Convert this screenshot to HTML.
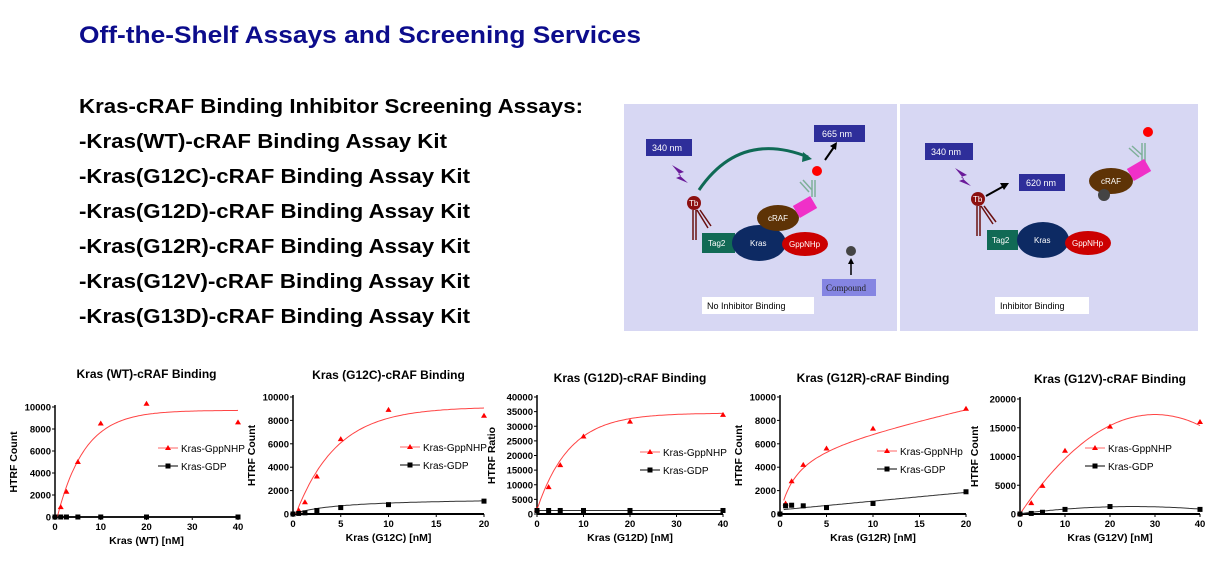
<!DOCTYPE html>
<html><head><meta charset="utf-8"><style>
html,body{margin:0;padding:0;background:#fff;}
svg{display:block;font-family:"Liberation Sans",Arial,sans-serif;}
</style></head><body>
<svg id="s" width="1221" height="567" viewBox="0 0 1221 567" xmlns="http://www.w3.org/2000/svg">
<text x="79" y="43" font-size="24" font-weight="bold" fill="#0c0c8c" textLength="562" lengthAdjust="spacingAndGlyphs">Off-the-Shelf Assays and Screening Services</text>
<g font-size="20" font-weight="bold" fill="#000">
<text x="79" y="113" textLength="504" lengthAdjust="spacingAndGlyphs">Kras-cRAF Binding Inhibitor Screening Assays:</text>
<text x="79" y="148" textLength="368" lengthAdjust="spacingAndGlyphs">-Kras(WT)-cRAF Binding Assay Kit</text>
<text x="79" y="183" textLength="391" lengthAdjust="spacingAndGlyphs">-Kras(G12C)-cRAF Binding Assay Kit</text>
<text x="79" y="218" textLength="391" lengthAdjust="spacingAndGlyphs">-Kras(G12D)-cRAF Binding Assay Kit</text>
<text x="79" y="253" textLength="391" lengthAdjust="spacingAndGlyphs">-Kras(G12R)-cRAF Binding Assay Kit</text>
<text x="79" y="288" textLength="391" lengthAdjust="spacingAndGlyphs">-Kras(G12V)-cRAF Binding Assay Kit</text>
<text x="79" y="323" textLength="391" lengthAdjust="spacingAndGlyphs">-Kras(G13D)-cRAF Binding Assay Kit</text>
</g>
<!-- diagram -->
<rect x="624" y="104" width="574" height="227" fill="#d7d7f3"/>
<rect x="897" y="104" width="3" height="227" fill="#fff"/>
<g font-size="9" fill="#fff">
<rect x="646" y="139" width="46" height="17" fill="#2e2e9a"/><text x="652" y="151">340 nm</text>
<rect x="814" y="125" width="51" height="17" fill="#2e2e9a"/><text x="822" y="137">665 nm</text>
<rect x="925" y="143" width="48" height="17" fill="#2e2e9a"/><text x="931" y="155">340 nm</text>
<rect x="1019" y="174" width="46" height="17" fill="#2e2e9a"/><text x="1026" y="186">620 nm</text>
</g>
<path d="M672 165 L684 172 L678 174 L688 183 L676 178 L681 176 Z" fill="#6a1a9a"/>
<path d="M955 168 L967 175 L961 177 L971 186 L959 181 L964 179 Z" fill="#6a1a9a"/>
<path d="M699 190 Q740 130 808 157" stroke="#0f6a55" stroke-width="3" fill="none"/>
<path d="M803 152 L812 159 L802 162 Z" fill="#0f6a55"/>
<line x1="825" y1="160" x2="834" y2="147" stroke="#000" stroke-width="2"/><path d="M830 146 L837 142 L836 150 Z"/>
<line x1="986" y1="196" x2="1004" y2="186" stroke="#000" stroke-width="2"/><path d="M1000 183 L1009 183 L1004 190 Z"/>
<!-- left assembly -->
<g stroke="#6a1010" stroke-width="1.5" fill="none">
<path d="M693 210 L693 240 M696 210 L696 240 M697 210 L708 228 M700 210 L711 226"/>
<path d="M977 206 L977 236 M980 206 L980 236 M981 206 L993 224 M984 206 L996 222"/>
</g>
<circle cx="694" cy="203" r="7" fill="#8c1010"/><text x="689" y="206" font-size="8" fill="#fff">Tb</text>
<circle cx="978" cy="199" r="7" fill="#8c1010"/><text x="973" y="202" font-size="8" fill="#fff">Tb</text>
<rect x="702" y="233" width="33" height="20" fill="#116a55"/><text x="708" y="246" font-size="8" fill="#fff">Tag2</text>
<ellipse cx="759" cy="243" rx="27" ry="18" fill="#0d2a63"/><text x="750" y="246" font-size="8" fill="#fff">Kras</text>
<ellipse cx="805" cy="244" rx="23" ry="12" fill="#c00"/><text x="789" y="247" font-size="8" fill="#fff">GppNHp</text>
<ellipse cx="778" cy="218" rx="21" ry="13" fill="#5e3306"/><text x="768" y="221" font-size="8" fill="#fff">cRAF</text>
<rect x="795" y="200" width="20" height="14" fill="#f030c8" transform="rotate(-30 805 207)"/>
<g stroke="#7fb09a" stroke-width="1.5" fill="none"><path d="M812 197 L812 180 M815 197 L815 180 M812 190 L803 180 M809 192 L800 182"/>
<path d="M1142 162 L1142 143 M1145 162 L1145 143 M1142 155 L1132 146 M1139 157 L1129 148"/></g>
<circle cx="817" cy="171" r="5" fill="#f00"/>
<circle cx="851" cy="251" r="5" fill="#444"/>
<line x1="851" y1="275" x2="851" y2="263" stroke="#000" stroke-width="1.5"/><path d="M848 264 L851 258 L854 264 Z"/>
<rect x="822" y="279" width="54" height="17" fill="#8585e2"/><text x="826" y="291" font-size="9" font-family="Liberation Serif,serif" fill="#222">Compound</text>
<rect x="702" y="297" width="112" height="17" fill="#fff"/><text x="707" y="309" font-size="9">No Inhibitor Binding</text>
<!-- right assembly -->
<rect x="987" y="230" width="31" height="20" fill="#116a55"/><text x="992" y="243" font-size="8" fill="#fff">Tag2</text>
<ellipse cx="1043" cy="240" rx="26" ry="18" fill="#0d2a63"/><text x="1034" y="243" font-size="8" fill="#fff">Kras</text>
<ellipse cx="1088" cy="243" rx="23" ry="12" fill="#c00"/><text x="1072" y="246" font-size="8" fill="#fff">GppNHp</text>
<ellipse cx="1111" cy="181" rx="22" ry="13" fill="#5e3306"/><text x="1101" y="184" font-size="8" fill="#fff">cRAF</text>
<circle cx="1104" cy="195" r="6" fill="#444"/>
<rect x="1129" y="163" width="20" height="14" fill="#f030c8" transform="rotate(-30 1139 170)"/>
<circle cx="1148" cy="132" r="5" fill="#f00"/>
<rect x="995" y="297" width="94" height="17" fill="#fff"/><text x="1000" y="309" font-size="9">Inhibitor Binding</text>
<g id="charts"></g>
</svg>
<script>
var g=document.getElementById('charts'),NS='http://www.w3.org/2000/svg';
function el(t,a,txt){var e=document.createElementNS(NS,t);for(var k in a)e.setAttribute(k,a[k]);if(txt!=null)e.textContent=txt;g.appendChild(e);return e;}
function chart(c){
 var X=function(v){return c.x0+(c.x1-c.x0)*v/c.xmax},Y=function(v){return c.y0-(c.y0-c.yt)*v/c.ymax};
 el('text',{x:(c.x0+c.x1)/2,y:c.ty,'font-size':12,'font-weight':'bold','text-anchor':'middle'},c.title);
 el('line',{x1:c.x0,y1:c.yt-2,x2:c.x0,y2:c.y0,stroke:'#000','stroke-width':1.5});
 el('line',{x1:c.x0,y1:c.y0,x2:c.x1,y2:c.y0,stroke:'#000','stroke-width':2});
 c.yticks.forEach(function(v){var y=Y(v);el('line',{x1:c.x0-3,y1:y,x2:c.x0,y2:y,stroke:'#000'});el('text',{x:c.x0-4,y:y+3.5,'font-size':9.5,'font-weight':'bold','text-anchor':'end'},v);});
 c.xticks.forEach(function(v){var x=X(v);el('line',{x1:x,y1:c.y0,x2:x,y2:c.y0+3,stroke:'#000'});el('text',{x:x,y:c.y0+13,'font-size':9.5,'font-weight':'bold','text-anchor':'middle'},v);});
 el('text',{x:(c.x0+c.x1)/2,y:c.y0+27,'font-size':10.5,'font-weight':'bold','text-anchor':'middle'},c.xl);
 var my=(c.y0+c.yt)/2;el('text',{x:c.x0-c.yo,y:my,'font-size':10.5,'font-weight':'bold','text-anchor':'middle',transform:'rotate(-90 '+(c.x0-c.yo)+' '+my+')'},c.yl);
 [[c.rf,'#f44'],[c.bf,'#333']].forEach(function(p){var pts=[];for(var i=0;i<=100;i++){var v=c.xs+(c.xmax-c.xs)*i/100;pts.push(X(v).toFixed(1)+','+Y(p[0](v)).toFixed(1));}el('polyline',{points:pts.join(' '),fill:'none',stroke:p[1],'stroke-width':1});});
 c.rp.forEach(function(p){var x=X(p[0]),y=Y(p[1]);el('path',{d:'M'+x+' '+(y-3)+'L'+(x+3)+' '+(y+2)+'L'+(x-3)+' '+(y+2)+'Z',fill:'#f00'});});
 c.bp.forEach(function(p){var x=X(p[0]),y=Y(p[1]);el('rect',{x:x-2.5,y:y-2.5,width:5,height:5,fill:'#000'});});
 var lx=c.lx,ly=c.ly;
 el('line',{x1:lx,y1:ly,x2:lx+20,y2:ly,stroke:'#f66'});el('path',{d:'M'+(lx+10)+' '+(ly-3)+'L'+(lx+13)+' '+(ly+2)+'L'+(lx+7)+' '+(ly+2)+'Z',fill:'#f00'});
 el('text',{x:lx+23,y:ly+4,'font-size':10},c.ln);
 el('line',{x1:lx,y1:ly+18,x2:lx+20,y2:ly+18,stroke:'#000'});el('rect',{x:lx+7.5,y:ly+15.5,width:5,height:5});
 el('text',{x:lx+23,y:ly+22,'font-size':10},'Kras-GDP');
}
var X5=[0,1.25,2.5,5,10,20,40];
chart({title:'Kras (WT)-cRAF Binding',ty:378,x0:55,x1:238,xmax:40,y0:517,yt:407,ymax:10000,yticks:[0,2000,4000,6000,8000,10000],xticks:[0,10,20,30,40],xl:'Kras (WT) [nM]',yl:'HTRF Count',yo:38,xs:0.5,
rf:function(x){return 9700*(1-Math.exp(-(x-0.5)/6))},bf:function(){return 0},rp:[[1.25,900],[2.5,2300],[5,5000],[10,8500],[20,10300],[40,8600]],bp:X5.map(function(x){return[x,0]}),lx:158,ly:448,ln:'Kras-GppNHP'});
chart({title:'Kras (G12C)-cRAF Binding',ty:379,x0:293,x1:484,xmax:20,y0:514,yt:397,ymax:10000,yticks:[0,2000,4000,6000,8000,10000],xticks:[0,5,10,15,20],xl:'Kras (G12C) [nM]',yl:'HTRF Count',yo:38,xs:0.3,
rf:function(x){return 9150*(1-Math.exp(-(x-0.3)/4.3))},bf:function(x){return 1400*x/(x+5)},rp:[[0.6,300],[1.25,1000],[2.5,3200],[5,6400],[10,8900],[20,8400]],bp:[[0,0],[0.6,50],[1.25,100],[2.5,300],[5,550],[10,800],[20,1100]],lx:400,ly:447,ln:'Kras-GppNHP'});
chart({title:'Kras (G12D)-cRAF Binding',ty:382,x0:537,x1:723,xmax:40,y0:514,yt:397,ymax:40000,yticks:[0,5000,10000,15000,20000,25000,30000,35000,40000],xticks:[0,10,20,30,40],xl:'Kras (G12D) [nM]',yl:'HTRF Ratio',yo:42,xs:0,
rf:function(x){return 1500+33000*(1-Math.exp(-x/7))},bf:function(){return 1200},rp:[[0,1500],[2.5,9200],[5,16700],[10,26500],[20,31600],[40,33900]],bp:[[0,1200],[2.5,1200],[5,1200],[10,1200],[20,1200],[40,1200]],lx:640,ly:452,ln:'Kras-GppNHP'});
chart({title:'Kras (G12R)-cRAF Binding',ty:382,x0:780,x1:966,xmax:20,y0:514,yt:397,ymax:10000,yticks:[0,2000,4000,6000,8000,10000],xticks:[0,5,10,15,20],xl:'Kras (G12R) [nM]',yl:'HTRF Count',yo:38,xs:0.4,
rf:function(x){return 6000*x/(x+1.8)+170*x},bf:function(x){return 350+75*x},rp:[[0.6,900],[1.25,2800],[2.5,4200],[5,5600],[10,7300],[20,9000]],bp:[[0,0],[0.6,700],[1.25,750],[2.5,700],[5,550],[10,900],[20,1900]],lx:877,ly:451,ln:'Kras-GppNHp'});
chart({title:'Kras (G12V)-cRAF Binding',ty:383,x0:1020,x1:1200,xmax:40,y0:514,yt:399,ymax:20000,yticks:[0,5000,10000,15000,20000],xticks:[0,10,20,30,40],xl:'Kras (G12V) [nM]',yl:'HTRF Count',yo:42,xs:0,
rf:function(x){return 17300-19.2*(x-30)*(x-30)},bf:function(x){return Math.max(0,1300-2*(x-25)*(x-25))},rp:[[0,0],[2.5,1900],[5,4900],[10,11000],[20,15200],[40,16000]],bp:[[0,0],[2.5,100],[5,300],[10,800],[20,1300],[40,800]],lx:1085,ly:448,ln:'Kras-GppNHP'});
</script>
</body></html>
